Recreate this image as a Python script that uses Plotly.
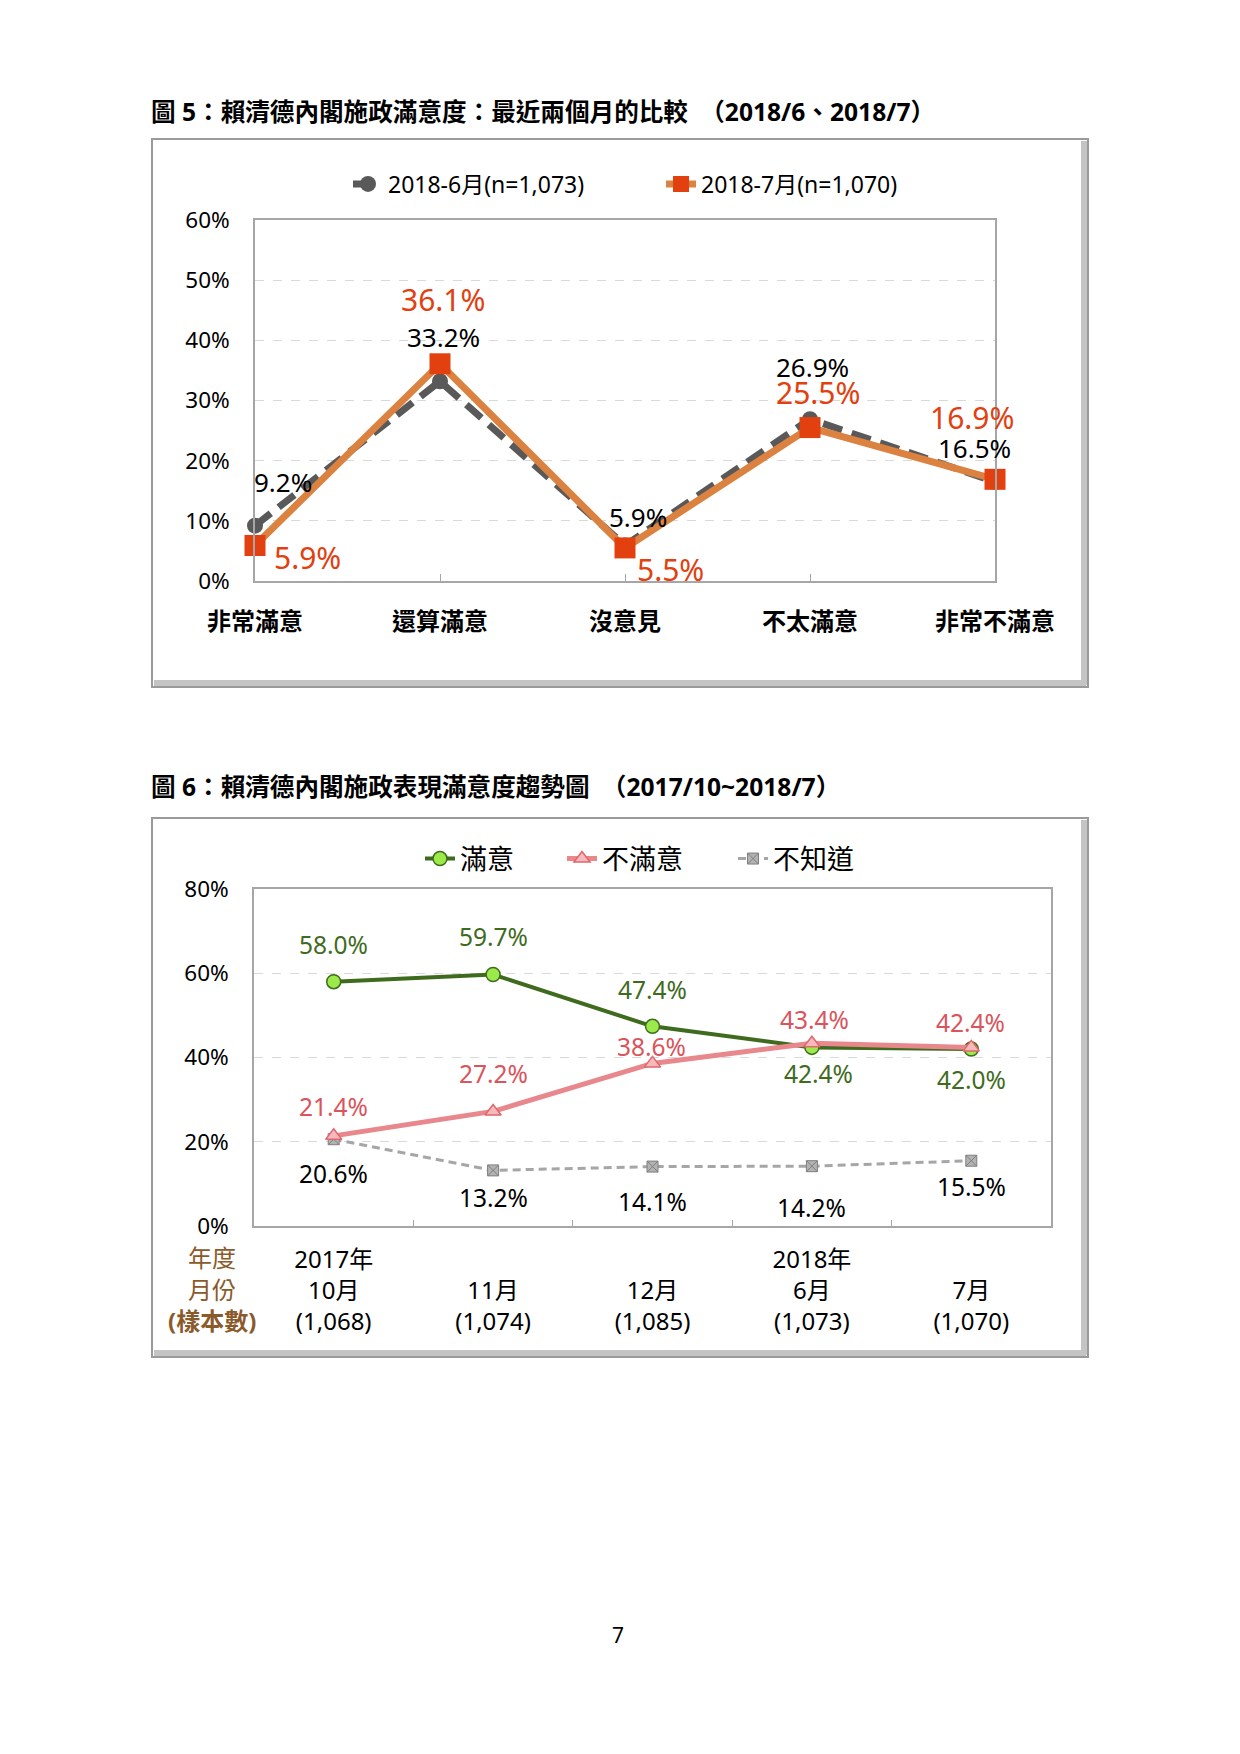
import plotly.graph_objects as go

W, H = 1240, 1754
OFF = 8  # page body margin of the html page
FONT = "Noto Sans, Noto Sans CJK TC, sans-serif"

# ---------------- data: chart 1 ----------------
cats1 = ["非常滿意", "還算滿意", "沒意見", "不太滿意", "非常不滿意"]
jun_vals = [9.2, 33.2, 5.9, 26.9, 16.5]
jul_vals = [5.9, 36.1, 5.5, 25.5, 16.9]
name_jun = "2018-6月(n=1,073)"
name_jul = "2018-7月(n=1,070)"
title1 = "圖 5：賴清德內閣施政滿意度：最近兩個月的比較　（2018/6、2018/7）"

# ---------------- data: chart 2 ----------------
periods2 = ["2017年<br>10月<br>(1,068)", " <br>11月<br>(1,074)", " <br>12月<br>(1,085)",
            "2018年<br>6月<br>(1,073)", " <br>7月<br>(1,070)"]
sat_vals = [58.0, 59.7, 47.4, 42.4, 42.0]
dissat_vals = [21.4, 27.2, 38.6, 43.4, 42.4]
dk_vals = [20.6, 13.2, 14.1, 14.2, 15.5]
name_sat, name_dissat, name_dk = "滿意", "不滿意", "不知道"
row_labels2 = ["年度", "月份", "<b>(樣本數)</b>"]
title2 = "圖 6：賴清德內閣施政表現滿意度趨勢圖　（2017/10~2018/7）"
page_no = "7"

# ---------------- label offsets (px) ----------------
jun_off = [(28, 44), (3, 44), (13, 29), (2, 52), (-21, 34)]
jul_off = [(52, -12), (3, 64), (45, -22), (8, 35), (-23, 62)]
sat_off = [(0, 37), (0, 38), (0, 37), (7, -26), (0, -30)]
dis_off = [(0, 29), (0, 38), (-1, 17), (3, 24), (-1, 25)]
dk_off = [(0, -34), (0, -27), (0, -35), (0, -41), (0, -26)]


def px(x):
    return (x - OFF) / W


def py(y):
    return 1 - (y - OFF) / H


GRAY_LINE = "#A6A6A6"
GREEN = "#3F6B1E"
PINK = "#E8878C"
PINK_TXT = "#D9545C"
RED = "#E2400F"
ORANGE = "#DB8240"

fig = go.Figure()

# chart 1 traces
fig.add_trace(go.Scatter(
    x=cats1, y=jun_vals, mode="lines+markers", name=name_jun, cliponaxis=False,
    line=dict(color="#595959", width=7, dash="20px,10px"),
    marker=dict(symbol="circle", size=16, color="#595959"),
    xaxis="x", yaxis="y", legend="legend"))
fig.add_trace(go.Scatter(
    x=cats1, y=jul_vals, mode="lines+markers", name=name_jul, cliponaxis=False,
    line=dict(color=ORANGE, width=7),
    marker=dict(symbol="square", size=21, color=RED),
    xaxis="x", yaxis="y", legend="legend2"))

# chart 2 traces
fig.add_trace(go.Scatter(
    x=periods2, y=dk_vals, mode="lines+markers", name=name_dk, cliponaxis=False,
    line=dict(color="#A6A6A6", width=3, dash="8px,5px"),
    marker=dict(symbol="square-x", size=11, color="#B3B3B3", line=dict(color="#7F7F7F", width=1)),
    xaxis="x2", yaxis="y2", legend="legend5"))
fig.add_trace(go.Scatter(
    x=periods2, y=sat_vals, mode="lines+markers", name=name_sat, cliponaxis=False,
    line=dict(color=GREEN, width=4),
    marker=dict(symbol="circle", size=14, color="#9BEA4A", line=dict(color=GREEN, width=1.5)),
    xaxis="x2", yaxis="y2", legend="legend3"))
fig.add_trace(go.Scatter(
    x=periods2, y=dissat_vals, mode="lines+markers", name=name_dissat, cliponaxis=False,
    line=dict(color=PINK, width=5),
    marker=dict(symbol="triangle-up", size=14, color="#F6BABD", line=dict(color="#E0666D", width=1.5)),
    xaxis="x2", yaxis="y2", legend="legend4"))

# data labels
for i, v in enumerate(jun_vals):
    fig.add_annotation(x=i, y=v, xref="x", yref="y", text=f"{v:.1f}%", showarrow=False,
                       xshift=jun_off[i][0], yshift=jun_off[i][1],
                       font=dict(size=26, color="black"))
for i, v in enumerate(jul_vals):
    fig.add_annotation(x=i, y=v, xref="x", yref="y", text=f"{v:.1f}%", showarrow=False,
                       xshift=jul_off[i][0], yshift=jul_off[i][1],
                       font=dict(size=30, color=RED))
for i, v in enumerate(sat_vals):
    fig.add_annotation(x=i, y=v, xref="x2", yref="y2", text=f"{v:.1f}%", showarrow=False,
                       xshift=sat_off[i][0], yshift=sat_off[i][1],
                       font=dict(size=24.5, color=GREEN))
for i, v in enumerate(dissat_vals):
    fig.add_annotation(x=i, y=v, xref="x2", yref="y2", text=f"{v:.1f}%", showarrow=False,
                       xshift=dis_off[i][0], yshift=dis_off[i][1],
                       font=dict(size=24.5, color=PINK_TXT))
for i, v in enumerate(dk_vals):
    fig.add_annotation(x=i, y=v, xref="x2", yref="y2", text=f"{v:.1f}%", showarrow=False,
                       xshift=dk_off[i][0], yshift=dk_off[i][1],
                       font=dict(size=24.5, color="black"))

# titles, row labels, page number
fig.add_annotation(x=px(149), y=py(112), xref="paper", yref="paper", xanchor="left", yanchor="middle",
                   text=f"<b>{title1}</b>", showarrow=False, font=dict(size=24.6, color="black"))
fig.add_annotation(x=px(149), y=py(786), xref="paper", yref="paper", xanchor="left", yanchor="middle",
                   text=f"<b>{title2}</b>", showarrow=False, font=dict(size=24.6, color="black"))
for lab, yy in zip(row_labels2, [1257, 1289, 1320]):
    fig.add_annotation(x=px(212), y=py(yy), xref="paper", yref="paper", xanchor="center", yanchor="middle",
                       text=lab, showarrow=False, font=dict(size=24, color="#8A5A2B"))
fig.add_annotation(x=px(618), y=py(1635), xref="paper", yref="paper", xanchor="center", yanchor="middle",
                   text=page_no, showarrow=False, font=dict(size=21, color="black"))

# frames
shapes = []
for (x0, y0, x1, y1) in [(152, 139, 1088, 687), (152, 818, 1088, 1357)]:
    shapes.append(dict(type="line", xref="paper", yref="paper", x0=px(x1 - 4), x1=px(x1 - 4),
                       y0=py(y0 + 2), y1=py(y1 - 2), line=dict(color="#C4C4C4", width=6), layer="below"))
    shapes.append(dict(type="line", xref="paper", yref="paper", x0=px(x0 + 2), x1=px(x1 - 2),
                       y0=py(y1 - 4), y1=py(y1 - 4), line=dict(color="#C4C4C4", width=6), layer="below"))
    shapes.append(dict(type="rect", xref="paper", yref="paper", x0=px(x0), x1=px(x1),
                       y0=py(y1), y1=py(y0), line=dict(color="#9A9A9A", width=2), layer="below"))

axis_common = dict(showline=True, mirror=True, linecolor=GRAY_LINE, linewidth=1.5, zeroline=False,
                   automargin=False)


def leg(x, y, size):
    return dict(orientation="h", x=px(x), y=py(y), xanchor="left", yanchor="middle",
                font=dict(size=size), bgcolor="rgba(0,0,0,0)")


fig.update_layout(
    width=W, height=H, margin=dict(l=0, r=0, t=0, b=0, pad=0, autoexpand=False),
    paper_bgcolor="white", plot_bgcolor="white",
    font=dict(family=FONT, color="black"),
    shapes=shapes,
    xaxis=dict(domain=[px(255), px(995)], anchor="y", type="category", range=[0, 4],
               showgrid=False, ticks="inside", ticklen=7, tickcolor=GRAY_LINE,
               tickfont=dict(size=24, weight="bold"), ticklabelstandoff=18, **axis_common),
    yaxis=dict(domain=[py(581), py(220)], anchor="x", range=[0, 60], dtick=10, ticksuffix="%",
               showgrid=True, gridcolor="#D9D9D9", griddash="dash", gridwidth=1,
               tickfont=dict(size=22.5), ticklabelstandoff=19, ticks="", **axis_common),
    xaxis2=dict(domain=[px(254), px(1051)], anchor="y2", type="category", range=[-0.5, 4.5],
                showgrid=False, tickson="boundaries", ticks="inside", ticklen=6, tickcolor=GRAY_LINE,
                tickfont=dict(size=24), ticklabelstandoff=11, **axis_common),
    yaxis2=dict(domain=[py(1226), py(889)], anchor="x2", range=[0, 80], dtick=20, ticksuffix="%",
                showgrid=True, gridcolor="#D9D9D9", griddash="dash", gridwidth=1,
                tickfont=dict(size=22.5), ticklabelstandoff=19, ticks="", **axis_common),
    legend=leg(348, 184, 23),
    legend2=leg(661, 184, 23),
    legend3=leg(420, 859, 27),
    legend4=leg(562, 859, 27),
    legend5=leg(733, 859, 27),
    showlegend=True,
)

fig.write_html("out.html")
